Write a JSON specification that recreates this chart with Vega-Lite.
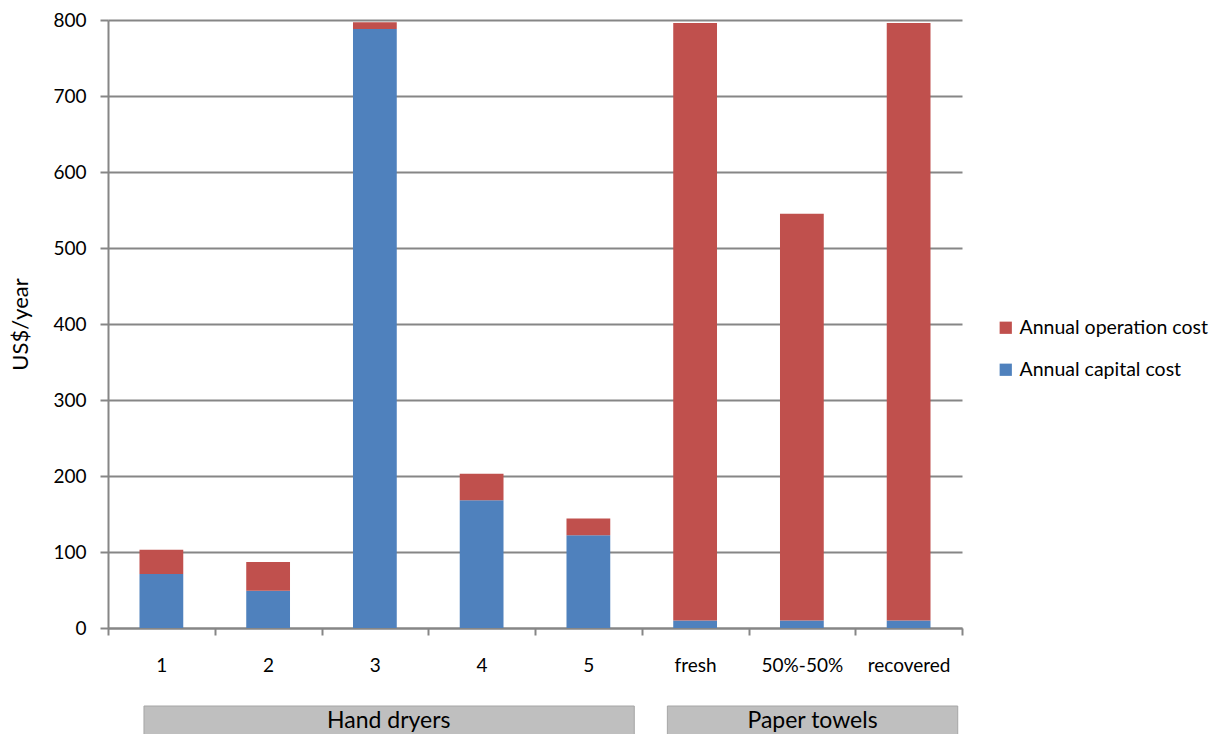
{
  "$schema": "https://vega.github.io/schema/vega-lite/v6.json",
  "padding": {"left": 9, "top": 11, "right": 5, "bottom": 0},
  "background": "white",
  "config": {"font": "Lato", "view": {"stroke": null}, "concat": {"spacing": 30}},
  "datasets": {
    "costs": [
      {"design": "1", "cost": "Annual capital cost", "value": 71},
      {"design": "1", "cost": "Annual operation cost", "value": 32},
      {"design": "2", "cost": "Annual capital cost", "value": 49},
      {"design": "2", "cost": "Annual operation cost", "value": 38},
      {"design": "3", "cost": "Annual capital cost", "value": 788},
      {"design": "3", "cost": "Annual operation cost", "value": 9},
      {"design": "4", "cost": "Annual capital cost", "value": 168},
      {"design": "4", "cost": "Annual operation cost", "value": 35},
      {"design": "5", "cost": "Annual capital cost", "value": 122},
      {"design": "5", "cost": "Annual operation cost", "value": 22},
      {"design": "fresh", "cost": "Annual capital cost", "value": 10},
      {"design": "fresh", "cost": "Annual operation cost", "value": 786},
      {"design": "50%-50%", "cost": "Annual capital cost", "value": 10},
      {"design": "50%-50%", "cost": "Annual operation cost", "value": 535},
      {"design": "recovered", "cost": "Annual capital cost", "value": 10},
      {"design": "recovered", "cost": "Annual operation cost", "value": 786}
    ],
    "groups": [
      {"group": "Hand dryers", "start": 0.337, "end": 4.93, "mid": 2.63},
      {"group": "Paper towels", "start": 5.24, "end": 7.96, "mid": 6.6}
    ]
  },
  "resolve": {"scale": {"x": "independent", "color": "independent"}},
  "vconcat": [
    {
      "width": 854,
      "height": 608,
      "data": {"name": "costs"},
      "mark": {"type": "bar", "width": {"band": 0.41}},
      "encoding": {
        "x": {
          "field": "design", "type": "nominal", "sort": null,
          "scale": {"paddingInner": 0, "paddingOuter": 0},
          "axis": {"title": null, "labelAngle": 0, "labelFontSize": 19, "labelColor": "black", "labelPadding": 21, "tickBand": "extent", "tickSize": 7, "tickWidth": 2, "tickColor": "#868686", "domainColor": "#868686", "domainWidth": 2, "grid": false}
        },
        "y": {
          "field": "value", "type": "quantitative", "stack": "zero",
          "scale": {"domain": [0, 800], "nice": false},
          "axis": {"title": "US$/year", "titleFontSize": 22, "titleFontWeight": "normal", "titleColor": "black", "titlePadding": 20, "labelFontSize": 19, "labelColor": "black", "labelPadding": 14, "values": [0, 100, 200, 300, 400, 500, 600, 700, 800], "tickSize": 8, "tickColor": "#868686", "tickWidth": 2, "gridColor": "#868686", "gridWidth": 2, "domainColor": "#868686", "domainWidth": 2, "grid": true}
        },
        "color": {
          "field": "cost", "type": "nominal",
          "scale": {"domain": ["Annual operation cost", "Annual capital cost"], "range": ["#C0504D", "#4F81BD"]},
          "legend": {"title": null, "orient": "none", "legendX": 888, "legendY": 298, "labelFontSize": 19.5, "labelLimit": 0, "labelColor": "black", "symbolType": "square", "symbolSize": 150, "symbolStrokeWidth": 0, "rowPadding": 21, "labelOffset": 4}
        },
        "order": {"field": "cost", "sort": "ascending"}
      }
    },
    {
      "width": 854,
      "height": 30,
      "data": {"name": "groups"},
      "layer": [
        {
          "mark": {"type": "rect", "color": "#BFBFBF", "stroke": "#A6A6A6", "strokeWidth": 1},
          "encoding": {
            "x": {"field": "start", "type": "quantitative", "scale": {"domain": [0, 8], "nice": false, "zero": false}, "axis": null},
            "x2": {"field": "end"}
          }
        },
        {
          "mark": {"type": "text", "fontSize": 23, "baseline": "middle", "color": "black"},
          "encoding": {
            "x": {"field": "mid", "type": "quantitative", "scale": {"domain": [0, 8], "nice": false, "zero": false}, "axis": null},
            "text": {"field": "group"}
          }
        }
      ]
    }
  ]
}
